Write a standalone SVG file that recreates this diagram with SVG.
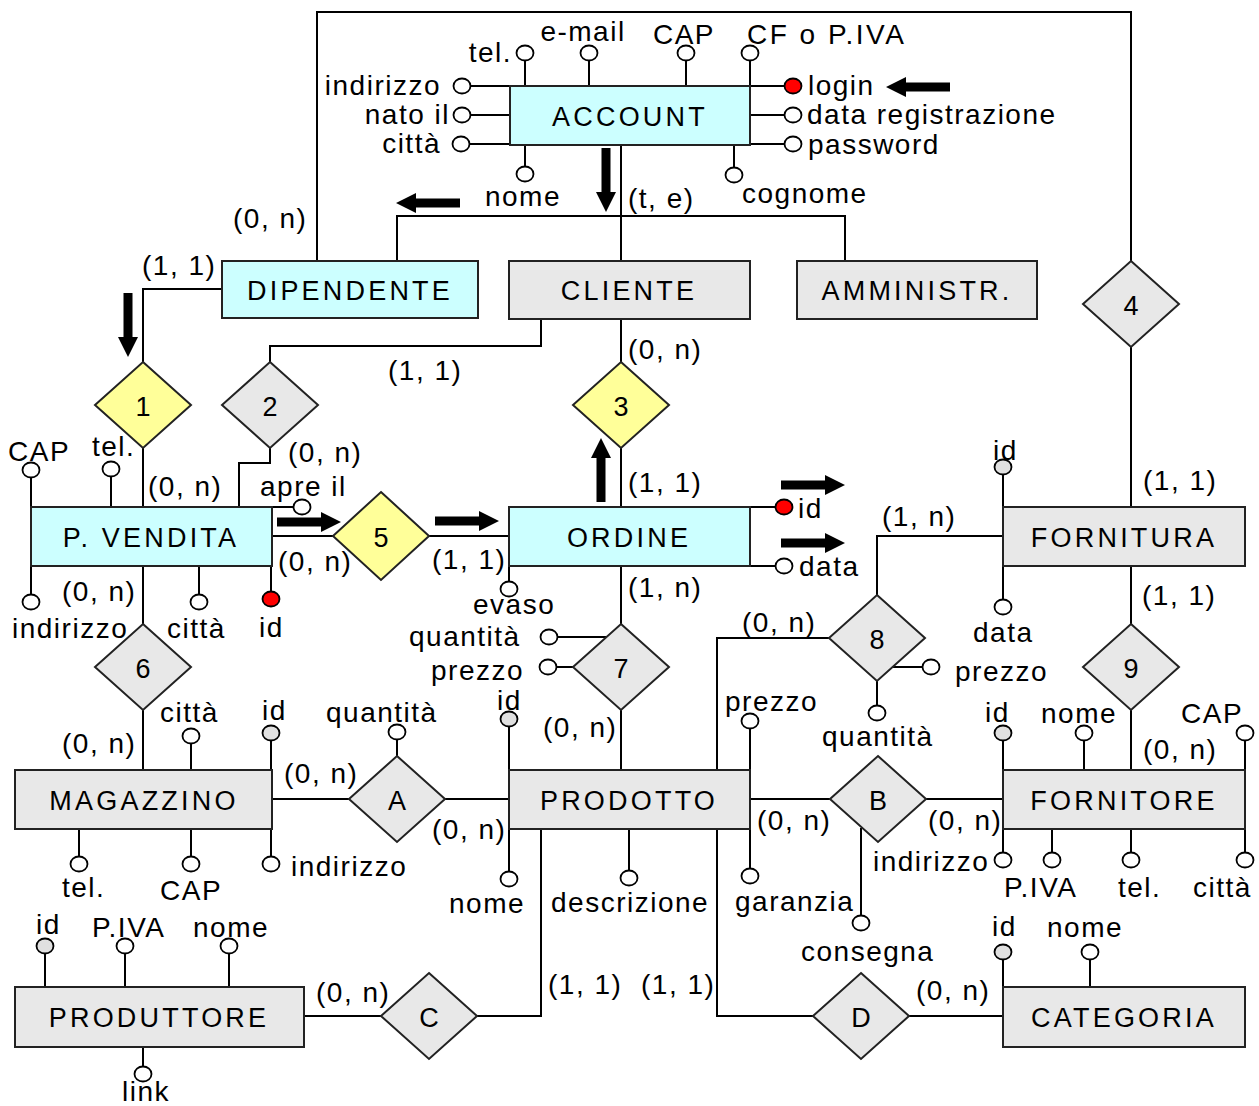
<svg xmlns="http://www.w3.org/2000/svg" width="1259" height="1106" viewBox="0 0 1259 1106">
<defs>
<style>
text{font-family:"Liberation Sans",Arial,sans-serif;fill:#000}
.t{font-size:28px;letter-spacing:1.5px}
.e{font-size:27px;letter-spacing:3.2px;text-anchor:middle}
.r{font-size:27px;text-anchor:middle}
.m{text-anchor:middle}
.n{text-anchor:end}
.box{stroke:#222;stroke-width:2}
.cy{fill:#CCFFFF}
.gy{fill:#E8E8E8}
.yl{fill:#FFFF99}
.dm{stroke:#222;stroke-width:2}
.ln{stroke:#000;stroke-width:2;fill:none}
.at{fill:#fff;stroke:#000;stroke-width:1.8}
.k{fill:#FF0000;stroke:#000;stroke-width:1.8}
.g{fill:#E0E0E0;stroke:#000;stroke-width:1.8}
</style>
<path id="arr" d="M0,-4.5 H44 V-10 L64,0 L44,10 V4.5 H0 Z" fill="#000"/>
</defs>
<rect width="1259" height="1106" fill="#fff"/>

<g id="connectors" class="ln">
<path d="M317,261 V12 H1131 V261"/>
<path d="M1131,347 V507"/>
<path d="M621,145 V261 M397,261 V216 H845 V261"/>
<path d="M222,289 H143 V362"/>
<path d="M541,319 V346 H270 V362"/>
<path d="M270,448 V463 H239 V507"/>
<path d="M143,448 V507"/>
<path d="M621,319 V362 M621,448 V507"/>
<path d="M272,536 H333 M429,536 H509"/>
<path d="M621,566 V624 M621,710 V770"/>
<path d="M143,566 V624 M143,710 V770"/>
<path d="M272,799 H349 M445,799 H509"/>
<path d="M750,799 H830 M926,799 H1003"/>
<path d="M1003,536 H877 V595"/>
<path d="M829,638 H717 V770"/>
<path d="M1131,566 V624 M1131,710 V770"/>
<path d="M304,1016 H381 M477,1016 H541 V829"/>
<path d="M717,829 V1016 H813 M909,1016 H1003"/>
</g>

<g id="arrows">
<use href="#arr" transform="translate(950,87) rotate(180)"/>
<use href="#arr" transform="translate(606,148) rotate(90)"/>
<use href="#arr" transform="translate(460,203) rotate(180)"/>
<use href="#arr" transform="translate(128,293) rotate(90)"/>
<use href="#arr" transform="translate(601,502) rotate(-90)"/>
<use href="#arr" transform="translate(277,522)"/>
<use href="#arr" transform="translate(435,521)"/>
<use href="#arr" transform="translate(781,485)"/>
<use href="#arr" transform="translate(781,543)"/>
</g>

<g id="cardinalities" class="t">
<text x="628" y="208">(t, e)</text>
<text x="233" y="228">(0, n)</text>
<text x="142" y="275">(1, 1)</text>
<text x="388" y="380">(1, 1)</text>
<text x="628" y="359">(0, n)</text>
<text x="288" y="462">(0, n)</text>
<text x="148" y="496">(0, n)</text>
<text x="628" y="492">(1, 1)</text>
<text x="882" y="526">(1, n)</text>
<text x="1143" y="490">(1, 1)</text>
<text x="278" y="571">(0, n)</text>
<text x="432" y="569">(1, 1)</text>
<text x="62" y="601">(0, n)</text>
<text x="628" y="597">(1, n)</text>
<text x="1142" y="605">(1, 1)</text>
<text x="742" y="632">(0, n)</text>
<text x="543" y="737">(0, n)</text>
<text x="62" y="753">(0, n)</text>
<text x="1143" y="759">(0, n)</text>
<text x="284" y="783">(0, n)</text>
<text x="432" y="839">(0, n)</text>
<text x="757" y="830">(0, n)</text>
<text x="928" y="830">(0, n)</text>
<text x="316" y="1002">(0, n)</text>
<text x="548" y="994">(1, 1)</text>
<text x="641" y="994">(1, 1)</text>
<text x="916" y="1000">(0, n)</text>
</g>

<g id="account">
<g class="ln">
<path d="M525,86 V53 M589,86 V53 M686,86 V53 M750,86 V53"/>
<path d="M510,86 H462 M510,115 H462 M510,144 H461"/>
<path d="M750,86 H793 M750,115 H793 M750,144 H793"/>
<path d="M525,145 V174 M734,145 V175"/>
</g>
<rect class="box cy" x="510" y="86" width="240" height="59"/>
<text class="e" x="630" y="126">ACCOUNT</text>
<ellipse class="at" cx="525" cy="53" rx="8.5" ry="7.5"/>
<ellipse class="at" cx="589" cy="53" rx="8.5" ry="7.5"/>
<ellipse class="at" cx="686" cy="53" rx="8.5" ry="7.5"/>
<ellipse class="at" cx="750" cy="53" rx="8.5" ry="7.5"/>
<ellipse class="at" cx="462" cy="86" rx="8.5" ry="7.5"/>
<ellipse class="at" cx="462" cy="115" rx="8.5" ry="7.5"/>
<ellipse class="at" cx="461" cy="144" rx="8.5" ry="7.5"/>
<ellipse class="k" cx="793" cy="86" rx="8.5" ry="7.5"/>
<ellipse class="at" cx="793" cy="115" rx="8.5" ry="7.5"/>
<ellipse class="at" cx="793" cy="144" rx="8.5" ry="7.5"/>
<ellipse class="at" cx="525" cy="174" rx="8.5" ry="7.5"/>
<ellipse class="at" cx="734" cy="175" rx="8.5" ry="7.5"/>
<g class="t">
<text class="n" x="512" y="62">tel.</text>
<text class="m" x="583" y="41">e-mail</text>
<text class="m" x="684" y="44">CAP</text>
<text x="747" y="44" style="letter-spacing:2.5px">CF o P.IVA</text>
<text class="n" x="441" y="95">indirizzo</text>
<text class="n" x="450" y="124">nato il</text>
<text class="n" x="441" y="153">città</text>
<text x="808" y="95">login</text>
<text x="807" y="124">data registrazione</text>
<text x="808" y="154">password</text>
<text class="m" x="523" y="206">nome</text>
<text x="742" y="203">cognome</text>
</g>
</g>

<g id="dipendente">
<rect class="box cy" x="222" y="261" width="256" height="57"/>
<text class="e" x="350" y="300">DIPENDENTE</text>
</g>
<g id="cliente">
<rect class="box gy" x="509" y="261" width="241" height="58"/>
<text class="e" x="629" y="300">CLIENTE</text>
</g>
<g id="amministr">
<rect class="box gy" x="797" y="261" width="240" height="58"/>
<text class="e" x="917" y="300">AMMINISTR.</text>
</g>

<g id="pvendita">
<g class="ln">
<path d="M31,507 V470 M111,507 V469 M272,507 H302"/>
<path d="M31,566 V602 M199,566 V602 M271,566 V599"/>
</g>
<rect class="box cy" x="31" y="507" width="241" height="59"/>
<text class="e" x="151" y="547">P. VENDITA</text>
<ellipse class="at" cx="31" cy="470" rx="8.5" ry="7.5"/>
<ellipse class="at" cx="111" cy="469" rx="8.5" ry="7.5"/>
<ellipse class="at" cx="302" cy="507" rx="8.5" ry="7.5"/>
<ellipse class="at" cx="31" cy="602" rx="8.5" ry="7.5"/>
<ellipse class="at" cx="199" cy="602" rx="8.5" ry="7.5"/>
<ellipse class="k" cx="271" cy="599" rx="8.5" ry="7.5"/>
<g class="t">
<text x="8" y="461">CAP</text>
<text x="92" y="456">tel.</text>
<text x="260" y="496">apre il</text>
<text x="12" y="638">indirizzo</text>
<text x="167" y="638">città</text>
<text x="259" y="637">id</text>
</g>
</g>

<g id="ordine">
<g class="ln">
<path d="M750,507 H784 M750,566 H784 M509,566 V589"/>
</g>
<rect class="box cy" x="509" y="507" width="241" height="59"/>
<text class="e" x="629" y="547">ORDINE</text>
<ellipse class="k" cx="784" cy="507" rx="8.5" ry="7.5"/>
<ellipse class="at" cx="784" cy="566" rx="8.5" ry="7.5"/>
<ellipse class="at" cx="509" cy="589" rx="8.5" ry="7.5"/>
<g class="t">
<text x="798" y="518">id</text>
<text x="799" y="576">data</text>
<text x="473" y="614">evaso</text>
</g>
</g>

<g id="fornitura">
<g class="ln"><path d="M1003,507 V467 M1003,566 V607"/></g>
<rect class="box gy" x="1003" y="507" width="242" height="59"/>
<text class="e" x="1124" y="547">FORNITURA</text>
<ellipse class="g" cx="1003" cy="467" rx="8.5" ry="7.5"/>
<ellipse class="at" cx="1003" cy="607" rx="8.5" ry="7.5"/>
<g class="t">
<text x="993" y="460">id</text>
<text x="973" y="642">data</text>
</g>
</g>

<g id="magazzino">
<g class="ln">
<path d="M191,770 V736 M271,770 V733 M79,829 V864 M191,829 V864 M271,829 V864"/>
</g>
<rect class="box gy" x="15" y="770" width="257" height="59"/>
<text class="e" x="144" y="810">MAGAZZINO</text>
<ellipse class="at" cx="191" cy="736" rx="8.5" ry="7.5"/>
<ellipse class="g" cx="271" cy="733" rx="8.5" ry="7.5"/>
<ellipse class="at" cx="79" cy="864" rx="8.5" ry="7.5"/>
<ellipse class="at" cx="191" cy="864" rx="8.5" ry="7.5"/>
<ellipse class="at" cx="271" cy="864" rx="8.5" ry="7.5"/>
<g class="t">
<text x="160" y="722">città</text>
<text x="262" y="720">id</text>
<text x="62" y="897">tel.</text>
<text x="160" y="900">CAP</text>
<text x="291" y="876">indirizzo</text>
</g>
</g>

<g id="prodotto">
<g class="ln">
<path d="M509,770 V719 M750,770 V721 M509,829 V879 M629,829 V878 M750,829 V876"/>
</g>
<rect class="box gy" x="509" y="770" width="241" height="59"/>
<text class="e" x="629" y="810">PRODOTTO</text>
<ellipse class="g" cx="509" cy="719" rx="8.5" ry="7.5"/>
<ellipse class="at" cx="750" cy="721" rx="8.5" ry="7.5"/>
<ellipse class="at" cx="509" cy="879" rx="8.5" ry="7.5"/>
<ellipse class="at" cx="629" cy="878" rx="8.5" ry="7.5"/>
<ellipse class="at" cx="750" cy="876" rx="8.5" ry="7.5"/>
<g class="t">
<text x="497" y="710">id</text>
<text x="725" y="711">prezzo</text>
<text x="449" y="913">nome</text>
<text x="551" y="912">descrizione</text>
<text x="735" y="911">garanzia</text>
</g>
</g>

<g id="fornitore">
<g class="ln">
<path d="M1003,770 V733 M1084,770 V733 M1245,770 V733"/>
<path d="M1003,829 V860 M1052,829 V860 M1131,829 V860 M1245,829 V860"/>
</g>
<rect class="box gy" x="1003" y="770" width="242" height="59"/>
<text class="e" x="1124" y="810">FORNITORE</text>
<ellipse class="g" cx="1003" cy="733" rx="8.5" ry="7.5"/>
<ellipse class="at" cx="1084" cy="733" rx="8.5" ry="7.5"/>
<ellipse class="at" cx="1245" cy="733" rx="8.5" ry="7.5"/>
<ellipse class="at" cx="1003" cy="860" rx="8.5" ry="7.5"/>
<ellipse class="at" cx="1052" cy="860" rx="8.5" ry="7.5"/>
<ellipse class="at" cx="1131" cy="860" rx="8.5" ry="7.5"/>
<ellipse class="at" cx="1245" cy="860" rx="8.5" ry="7.5"/>
<g class="t">
<text x="985" y="722">id</text>
<text x="1041" y="723">nome</text>
<text x="1181" y="723">CAP</text>
<text x="873" y="871">indirizzo</text>
<text x="1004" y="897">P.IVA</text>
<text x="1118" y="897">tel.</text>
<text x="1193" y="897">città</text>
</g>
</g>

<g id="produttore">
<g class="ln">
<path d="M45,987 V946 M125,987 V946 M229,987 V946 M143,1047 V1074"/>
</g>
<rect class="box gy" x="15" y="987" width="289" height="60"/>
<text class="e" x="159" y="1027">PRODUTTORE</text>
<ellipse class="g" cx="45" cy="946" rx="8.5" ry="7.5"/>
<ellipse class="at" cx="125" cy="946" rx="8.5" ry="7.5"/>
<ellipse class="at" cx="229" cy="946" rx="8.5" ry="7.5"/>
<ellipse class="at" cx="143" cy="1074" rx="8.5" ry="7.5"/>
<g class="t">
<text x="36" y="934">id</text>
<text x="92" y="937">P.IVA</text>
<text x="193" y="937">nome</text>
<text x="122" y="1101">link</text>
</g>
</g>

<g id="categoria">
<g class="ln"><path d="M1003,987 V952 M1090,987 V952"/></g>
<rect class="box gy" x="1003" y="987" width="242" height="60"/>
<text class="e" x="1124" y="1027">CATEGORIA</text>
<ellipse class="g" cx="1003" cy="952" rx="8.5" ry="7.5"/>
<ellipse class="at" cx="1090" cy="952" rx="8.5" ry="7.5"/>
<g class="t">
<text x="992" y="936">id</text>
<text x="1047" y="937">nome</text>
</g>
</g>

<g id="rel-1"><polygon class="dm yl" points="143,362 191,405 143,448 95,405"/><text class="r" x="143" y="416">1</text></g>
<g id="rel-2"><polygon class="dm gy" points="270,362 318,405 270,448 222,405"/><text class="r" x="270" y="416">2</text></g>
<g id="rel-3"><polygon class="dm yl" points="621,362 669,405 621,448 573,405"/><text class="r" x="621" y="416">3</text></g>
<g id="rel-4"><polygon class="dm gy" points="1131,261 1179,304 1131,347 1083,304"/><text class="r" x="1131" y="315">4</text></g>
<g id="rel-5"><polygon class="dm yl" points="381,492 429,536 381,580 333,536"/><text class="r" x="381" y="547">5</text></g>
<g id="rel-6"><polygon class="dm gy" points="143,624 191,667 143,710 95,667"/><text class="r" x="143" y="678">6</text></g>
<g id="rel-7">
<path class="ln" d="M606,637 H549 M573,667 H548"/>
<polygon class="dm gy" points="621,624 669,667 621,710 573,667"/><text class="r" x="621" y="678">7</text>
<ellipse class="at" cx="549" cy="637" rx="8.5" ry="7.5"/>
<ellipse class="at" cx="548" cy="667" rx="8.5" ry="7.5"/>
<g class="t"><text x="409" y="646">quantità</text><text x="431" y="680">prezzo</text></g>
</g>
<g id="rel-8">
<path class="ln" d="M893,667 H931 M877,681 V713"/>
<polygon class="dm gy" points="877,595 925,638 877,681 829,638"/><text class="r" x="877" y="649">8</text>
<ellipse class="at" cx="931" cy="667" rx="8.5" ry="7.5"/>
<ellipse class="at" cx="877" cy="713" rx="8.5" ry="7.5"/>
<g class="t"><text x="955" y="681">prezzo</text><text x="822" y="746">quantità</text></g>
</g>
<g id="rel-9"><polygon class="dm gy" points="1131,624 1179,667 1131,710 1083,667"/><text class="r" x="1131" y="678">9</text></g>
<g id="rel-A">
<path class="ln" d="M397,756 V732"/>
<polygon class="dm gy" points="397,756 445,799 397,842 349,799"/><text class="r" x="397" y="810">A</text>
<ellipse class="at" cx="397" cy="732" rx="8.5" ry="7.5"/>
<text class="t" x="326" y="722">quantità</text>
</g>
<g id="rel-B">
<path class="ln" d="M861,828 V923"/>
<polygon class="dm gy" points="878,756 926,799 878,842 830,799"/><text class="r" x="878" y="810">B</text>
<ellipse class="at" cx="861" cy="923" rx="8.5" ry="7.5"/>
<text class="t" x="801" y="961">consegna</text>
</g>
<g id="rel-C"><polygon class="dm gy" points="429,973 477,1016 429,1059 381,1016"/><text class="r" x="429" y="1027">C</text></g>
<g id="rel-D"><polygon class="dm gy" points="861,973 909,1016 861,1059 813,1016"/><text class="r" x="861" y="1027">D</text></g>
</svg>
